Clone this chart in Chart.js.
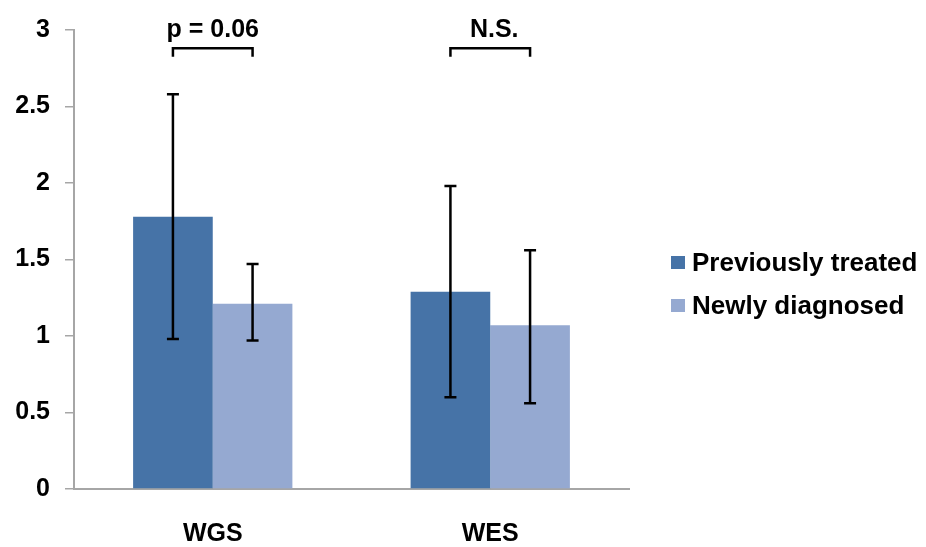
<!DOCTYPE html>
<html>
<head>
<meta charset="utf-8">
<script src="https://cdn.jsdelivr.net/npm/chart.js@4.4.1/dist/chart.umd.min.js"></script>
<style>
    html, body { margin: 0; padding: 0; background: #fff; }
    #wrap { width: 926px; height: 547px; }
</style>
</head>
<body>
<div id="wrap"><canvas id="chart"></canvas></div>
<script>
const categories = ["WGS", "WES"];
const seriesNames = ["Previously treated", "Newly diagnosed"];
const previouslyTreated = [1.78, 1.29];
const newlyDiagnosed = [1.21, 1.07];
// error bar ends
const treatedLow = [0.98, 0.60];
const treatedHigh = [2.58, 1.98];
const newLow = [0.97, 0.56];
const newHigh = [1.47, 1.56];
const sigLabels = ["p = 0.06", "N.S."];
const yTicks = { min: 0, max: 3, step: 0.5 };

const FONT = "'Liberation Sans', Arial, sans-serif";

// error bars drawn through the scales
const errorBars = {
    id: "errorBars",
    afterDatasetsDraw(chart) {
        const ctx = chart.ctx;
        const y = chart.scales.y;
        const ends = [[treatedLow, treatedHigh], [newLow, newHigh]];
        ctx.save();
        ctx.strokeStyle = "#000";
        ctx.lineWidth = 2.5;
        chart.data.datasets.forEach((ds, i) => {
            chart.getDatasetMeta(i).data.forEach((bar, j) => {
                const lo = y.getPixelForValue(ends[i][0][j]);
                const hi = y.getPixelForValue(ends[i][1][j]);
                ctx.beginPath();
                ctx.moveTo(bar.x, lo);
                ctx.lineTo(bar.x, hi);
                ctx.moveTo(bar.x - 6, lo);
                ctx.lineTo(bar.x + 6, lo);
                ctx.moveTo(bar.x - 6, hi);
                ctx.lineTo(bar.x + 6, hi);
                ctx.stroke();
            });
        });
        ctx.restore();
    }
};

// significance brackets above each group
const brackets = {
    id: "brackets",
    afterDraw(chart) {
        const ctx = chart.ctx;
        const y = chart.scales.y;
        const a = chart.getDatasetMeta(0).data;
        const b = chart.getDatasetMeta(1).data;
        const lineY = y.getPixelForValue(2.88);
        const footY = y.getPixelForValue(2.825);
        const textY = y.getPixelForValue(3.0);
        ctx.save();
        ctx.strokeStyle = "#000";
        ctx.lineWidth = 2.5;
        ctx.fillStyle = "#000";
        ctx.font = "bold 25px " + FONT;
        ctx.textAlign = "center";
        ctx.textBaseline = "middle";
        sigLabels.forEach((label, j) => {
            ctx.beginPath();
            ctx.moveTo(a[j].x, footY);
            ctx.lineTo(a[j].x, lineY);
            ctx.lineTo(b[j].x, lineY);
            ctx.lineTo(b[j].x, footY);
            ctx.stroke();
            ctx.fillText(label, (a[j].x + b[j].x) / 2 + (j === 1 ? 4 : 0), textY);
        });
        ctx.restore();
    }
};

// legend on the right, Excel style
const sideLegend = {
    id: "sideLegend",
    afterDraw(chart) {
        const ctx = chart.ctx;
        ctx.save();
        ctx.font = "bold 26px " + FONT;
        ctx.textBaseline = "middle";
        ctx.textAlign = "left";
        chart.data.datasets.forEach((ds, i) => {
            const cy = 263 + i * 43;
            ctx.fillStyle = ds.backgroundColor;
            ctx.fillRect(671, cy - 7, 14, 13);
            ctx.fillStyle = "#000";
            ctx.fillText(ds.label, 692, cy + 1);
        });
        ctx.restore();
    }
};

new Chart(document.getElementById("chart"), {
    type: "bar",
    data: {
        labels: categories,
        datasets: [{
            label: seriesNames[0],
            data: previouslyTreated,
            backgroundColor: "#4673A7"
        }, {
            label: seriesNames[1],
            data: newlyDiagnosed,
            backgroundColor: "#95A9D1"
        }]
    },
    options: {
        responsive: true,
        maintainAspectRatio: false,
        animation: false,
        layout: { padding: { top: 26, right: 297, left: 0, bottom: 0 } },
        datasets: {
            bar: { categoryPercentage: 0.574, barPercentage: 1.0 }
        },
        plugins: {
            legend: { display: false },
            tooltip: { enabled: false }
        },
        scales: {
            x: {
                grid: { display: false },
                border: { display: true, color: "#a6a6a6", width: 2 },
                ticks: {
                    color: "#000",
                    padding: 22,
                    font: { family: FONT, size: 25, weight: "bold" }
                },
                afterFit(scale) { scale.height = 58; }
            },
            y: {
                min: yTicks.min,
                max: yTicks.max,
                grid: {
                    drawOnChartArea: false,
                    drawTicks: true,
                    tickLength: 9,
                    color: "#a6a6a6",
                    lineWidth: 1.5
                },
                border: { display: true, color: "#a6a6a6", width: 2 },
                ticks: {
                    stepSize: yTicks.step,
                    color: "#000",
                    padding: 15,
                    font: { family: FONT, size: 25, weight: "bold" },
                    callback: value => String(Math.round(value * 10) / 10)
                },
                afterFit(scale) { scale.width = 74; }
            }
        }
    },
    plugins: [errorBars, brackets, sideLegend]
});
</script>
</body>
</html>
